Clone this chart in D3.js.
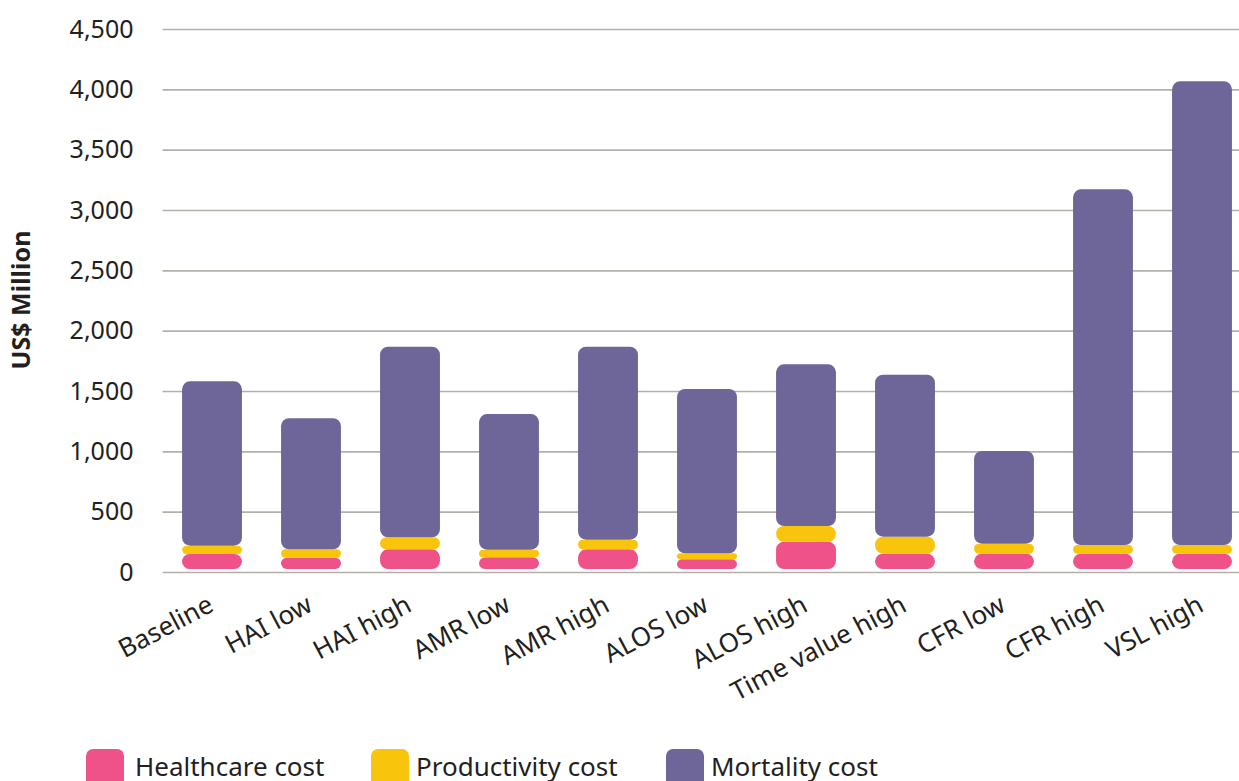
<!DOCTYPE html>
<html>
<head>
<meta charset="utf-8">
<script src="https://cdn.jsdelivr.net/npm/d3@7"></script>
<style>
  body { margin: 0; background: #fff; }
  text { font-family: "Noto Sans", "Open Sans", sans-serif; fill: #231f20; }
</style>
</head>
<body>
<svg id="chart" width="1239" height="781"></svg>
<script>
// scenario names along the x axis
const categories = ['Baseline', 'HAI low', 'HAI high', 'AMR low', 'AMR high', 'ALOS low',
    'ALOS high', 'Time value high', 'CFR low', 'CFR high', 'VSL high'];

// cost components, US$ million
const healthcare = [149, 119, 188, 122, 188, 105, 251, 152, 152, 152, 152];
const productivity = [69, 69, 99, 63, 80, 50, 130, 141, 83, 72, 72];
const mortality = [1362, 1086, 1580, 1124, 1599, 1362, 1340, 1342, 768, 2947, 3842];

const yTicks = [0, 500, 1000, 1500, 2000, 2500, 3000, 3500, 4000, 4500];

const seriesNames = ['Healthcare cost', 'Productivity cost', 'Mortality cost'];
const seriesColors = ['#ef5289', '#f8c50c', '#6e6699'];

// build rows for the stack layout
const rows = categories.map((c, i) => ({
    cat: c,
    'Healthcare cost': healthcare[i],
    'Productivity cost': productivity[i],
    'Mortality cost': mortality[i]
}));

const svg = d3.select('#chart');
const margin = { top: 29, left: 162.5, bottom: 572 };

const x = d3.scaleBand().domain(categories).range([162.5, 1251.5]).paddingInner(0.395).paddingOuter(0.1975);
const y = d3.scaleLinear().domain([0, 4500]).range([572, 29]);

// gridlines and y labels
const yAxis = svg.append('g')
    .attr('transform', `translate(${margin.left},0)`)
    .call(d3.axisLeft(y).tickValues(yTicks).tickFormat(d3.format(',')).tickSize(-1100).tickPadding(29));
yAxis.select('.domain').remove();
yAxis.selectAll('.tick line').attr('stroke', '#b5afaa').attr('stroke-width', 1.6);
yAxis.selectAll('.tick text').attr('font-size', 25).attr('fill', '#231f20')
    .style('font-family', '"Noto Sans", sans-serif');

// y title
svg.append('text')
    .attr('transform', 'translate(30,300) rotate(-90)')
    .attr('text-anchor', 'middle')
    .attr('font-size', 25)
    .attr('font-weight', 'bold')
    .text('US$ Million');

// stacked bars
const stack = d3.stack().keys(seriesNames)(rows);
const bottomGap = 3;

stack.forEach((layer, li) => {
    svg.append('g')
        .selectAll('rect')
        .data(layer)
        .join('rect')
        .attr('x', d => x(d.data.cat))
        .attr('width', x.bandwidth())
        .attr('y', d => y(d[1]))
        .attr('height', d => {
            let h = y(d[0]) - y(d[1]);
            if (li === 0) h -= bottomGap;
            return h;
        })
        .attr('rx', d => Math.min(8, (y(d[0]) - y(d[1]) - (li === 0 ? bottomGap : 0)) / 2))
        .attr('fill', seriesColors[li]);
});

// x labels, rotated
svg.append('g')
    .selectAll('text')
    .data(categories)
    .join('text')
    .attr('transform', d => `translate(${x(d) + x.bandwidth() / 2 - 6},${593}) rotate(-28)`)
    .attr('text-anchor', 'end')
    .attr('dy', '0.75em')
    .attr('font-size', 26)
    .text(d => d);

// legend
const legendX = [86, 371, 666];
const legendTextX = [135, 416, 711];
const legend = svg.append('g');
seriesNames.forEach((name, i) => {
    legend.append('rect')
        .attr('x', legendX[i]).attr('y', 749)
        .attr('width', 38).attr('height', 40)
        .attr('rx', 7)
        .attr('fill', seriesColors[i]);
    legend.append('text')
        .attr('x', legendTextX[i]).attr('y', 776)
        .attr('font-size', 26)
        .text(name);
});
</script>
</body>
</html>
